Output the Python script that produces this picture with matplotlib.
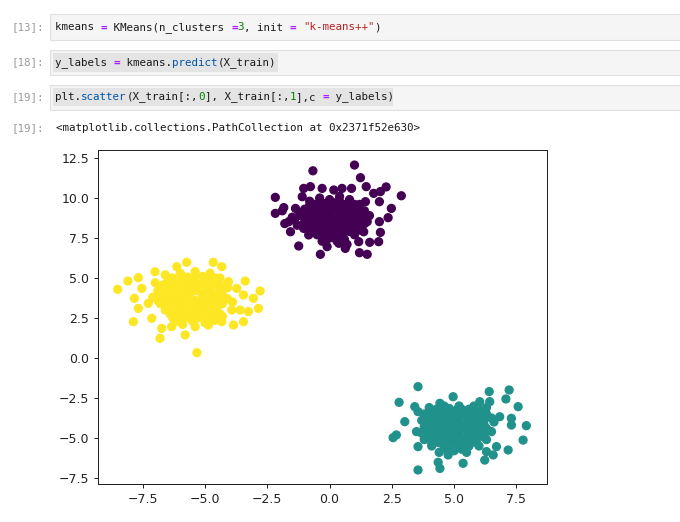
import matplotlib
matplotlib.use("Agg")
import matplotlib.pyplot as plt
from matplotlib.patches import Rectangle
import numpy as np

# ---- data ----
purple_x = [1.0, -0.67, 1.24, -2.18, 2.88, 2.27, 2.04, 1.77, 1.47, 2.48, 2.35, 2.0, 2.0, 2.04,
            1.97, 1.61, 1.17, 1.2, 1.51, 0.63, -0.37, -1.24, -1.57, -2.18, -1.84, -1.64, -1.37,
            -1.04, -0.77, -0.3, -1.1, 0.17, 0.5, 0.88, -0.03, 0.37, -0.1, -0.84, -1.04, 1.44,
            1.51, 1.37,
            -0.8, -0.4, 0.0, 0.4, 0.8, 1.2,
            -1.0, -0.6, -0.2, 0.2, 0.6, 1.0, 1.4,
            -1.2, -0.8, -0.4, 0.0, 0.4, 0.8, 1.2, 1.6,
            -1.0, -0.6, -0.2, 0.2, 0.6, 1.0, 1.4,
            -0.8, -0.4, 0.0, 0.4, 0.8, 1.2,
            -0.5, 0.0, 0.5, 1.0,
            -0.3, 0.3, 0.7,
            -1.9, -1.5, -1.3, -1.8]
purple_y = [12.06, 11.7, 11.27, 10.04, 10.14, 10.69, 10.4, 10.29, 10.71, 9.35, 8.77, 8.52, 9.77, 7.85,
            7.27, 7.23, 7.27, 6.58, 6.48, 6.85, 6.48, 7.0, 7.89, 9.04, 9.4, 8.52, 9.35,
            10.6, 10.71, 10.6, 10.08, 10.5, 10.6, 10.6, 7.48, 7.17, 6.96, 7.69, 8.1, 9.77,
            8.52, 7.89,
            9.8, 10.0, 9.9, 10.1, 9.9, 9.6,
            9.3, 9.4, 9.5, 9.5, 9.4, 9.3, 9.2,
            8.9, 8.9, 9.0, 9.0, 8.9, 8.9, 8.8, 8.9,
            8.5, 8.5, 8.6, 8.5, 8.5, 8.4, 8.4,
            8.1, 8.1, 8.1, 8.0, 8.1, 8.0,
            7.7, 7.7, 7.6, 7.7,
            7.3, 7.3, 7.1,
            9.2, 8.8, 8.3, 8.4]
purple_core_x = [-0.6, -0.2, 0.2, 0.6, 1.0,
                 -1.0, -0.6, -0.2, 0.2, 0.6, 1.0, 1.4,
                 -1.4, -1.0, -0.6, -0.2, 0.2, 0.6, 1.0, 1.4,
                 -0.8, -0.4, 0.0, 0.4, 0.8, 1.2,
                 -0.6, -0.2, 0.2, 0.6, 1.0,
                 -0.2, 0.2, 0.6,
                 -0.8, -0.4, 0.0, 0.4, 0.8,
                 -1.2, -0.8, -0.4, 0.0, 0.4, 0.8, 1.2,
                 -0.8, -0.4, 0.0, 0.4, 0.8, 1.2,
                 -0.6, -0.2, 0.2, 0.6, 1.0,
                 -0.4, 0.0, 0.4, 0.8]
purple_core_y = [9.6, 9.65, 9.7, 9.6, 9.6,
                 9.15, 9.15, 9.2, 9.25, 9.15, 9.1, 9.0,
                 8.7, 8.7, 8.75, 8.8, 8.7, 8.7, 8.65, 8.6,
                 8.3, 8.3, 8.35, 8.3, 8.25, 8.2,
                 7.9, 7.9, 7.85, 7.9, 7.85,
                 7.5, 7.5, 7.4,
                 9.55, 9.75, 9.7, 9.8, 9.7,
                 9.1, 9.2, 9.25, 9.3, 9.3, 9.2, 9.1,
                 8.6, 8.8, 8.8, 8.7, 8.6, 8.55,
                 8.2, 8.3, 8.2, 8.2, 8.2,
                 7.8, 7.85, 7.75, 7.9]

yellow_x = [-8.51, -8.1, -7.68, -7.84, -7.68, -7.88, -7.28, -7.01, -6.81, -5.8, -5.33, -5.74,
            -6.14, -4.67, -4.33, -4.06, -3.39, -3.73, -2.79, -3.46, -3.06, -2.86, -3.26, -3.46,
            -3.86, -3.59, -3.93, -4.33, -4.87, -5.4, -6.34, -6.74, -7.14, -7.54,
            -6.6, -6.0, -5.4, -4.8, -4.4,
            -7.0, -6.5, -6.0, -5.5, -5.0, -4.5, -4.1,
            -6.9, -6.4, -5.9, -5.4, -4.9, -4.4,
            -7.1, -6.6, -6.1, -5.6, -5.1, -4.6, -4.1,
            -6.8, -6.3, -5.8, -5.3, -4.8, -4.3,
            -6.6, -6.1, -5.6, -5.1, -4.6,
            -6.3, -5.8, -5.3, -4.8, -4.3,
            -5.9, -5.0]
yellow_y = [4.29, 4.81, 5.02, 3.73, 3.1, 2.27, 3.42, 5.39, 1.23, 1.44, 0.33, 5.98,
            5.71, 5.98, 5.71, 4.77, 4.81, 4.35, 4.19, 3.94, 3.73, 3.1, 2.9, 2.27,
            2.06, 3.0, 3.0, 2.27, 2.06, 1.96, 1.96, 1.85, 2.48, 4.35,
            5.2, 5.3, 5.4, 5.3, 5.0,
            4.7, 4.8, 4.8, 4.9, 4.8, 4.6, 4.4,
            4.2, 4.3, 4.3, 4.4, 4.3, 4.2,
            3.8, 3.8, 3.9, 3.9, 3.8, 3.8, 3.7,
            3.4, 3.4, 3.4, 3.3, 3.4, 3.4,
            3.0, 2.9, 2.9, 2.9, 2.9,
            2.5, 2.5, 2.5, 2.6, 2.6,
            2.1, 2.2]
yellow_core_x = [-6.3, -5.7, -5.1, -4.6,
                 -6.7, -6.2, -5.7, -5.2, -4.7, -4.3,
                 -6.6, -6.1, -5.6, -5.1, -4.6,
                 -6.9, -6.4, -5.9, -5.4, -4.9, -4.4, -3.9,
                 -6.5, -6.0, -5.5, -5.0, -4.5,
                 -6.4, -5.9, -5.4, -4.9, -4.4,
                 -6.1, -5.5, -4.6,
                 -6.4, -5.9, -5.4, -4.9,
                 -6.8, -6.3, -5.8, -5.3, -4.8, -4.4,
                 -6.8, -6.3, -5.8, -5.3, -4.8, -4.3,
                 -6.6, -6.1, -5.6, -5.1, -4.6,
                 -6.2, -5.7, -5.2, -4.7,
                 -6.1, -5.6, -5.1, -4.6]
yellow_core_y = [5.0, 5.05, 5.1, 5.0,
                 4.55, 4.55, 4.6, 4.6, 4.55, 4.5,
                 4.05, 4.05, 4.1, 4.05, 4.0,
                 3.6, 3.6, 3.65, 3.6, 3.6, 3.55, 3.5,
                 3.2, 3.15, 3.2, 3.15, 3.2,
                 2.75, 2.7, 2.75, 2.7, 2.75,
                 2.3, 2.3, 2.35,
                 4.9, 5.1, 5.15, 5.0,
                 4.45, 4.6, 4.6, 4.65, 4.5, 4.4,
                 4.0, 4.1, 4.15, 4.2, 4.1, 3.95,
                 3.6, 3.65, 3.7, 3.6, 3.6,
                 3.2, 3.15, 3.1, 3.15,
                 2.75, 2.7, 2.7, 2.7]

teal_x = [3.55, 2.79, 3.42, 3.02, 2.68, 2.55, 3.55, 4.43, 4.36, 4.76, 5.36, 6.23, 6.57, 7.17,
          7.77, 7.9, 7.57, 7.21, 7.08, 6.41, 7.3, 7.3, 6.83, 6.43, 6.03, 4.96, 4.43, 3.55,
          3.49, 3.55, 6.7, 6.3,
          4.0, 4.6, 5.2, 5.8, 6.3,
          3.8, 4.3, 4.8, 5.3, 5.8, 6.3,
          3.7, 4.2, 4.7, 5.2, 5.7, 6.2, 6.6,
          3.8, 4.3, 4.8, 5.3, 5.8, 6.3,
          3.7, 4.2, 4.7, 5.2, 5.7, 6.2,
          3.8, 4.3, 4.8, 5.3, 5.8, 6.3,
          4.1, 4.6, 5.1, 5.6, 6.0,
          4.4, 5.0, 5.5]
teal_y = [-1.79, -2.77, -3.04, -3.98, -4.81, -4.98, -7.0, -6.9, -6.52, -6.06, -6.58, -6.38, -6.06, -5.75,
          -5.13, -4.23, -3.04, -2.0, -2.56, -2.1, -3.77, -4.19, -3.67, -2.73, -2.73, -2.42, -2.83, -3.35,
          -4.6, -5.54, -5.54, -5.85,
          -3.1, -3.0, -3.0, -3.0, -3.1,
          -3.5, -3.5, -3.4, -3.5, -3.4, -3.5,
          -3.9, -3.9, -3.9, -3.9, -3.9, -3.9, -4.0,
          -4.3, -4.3, -4.3, -4.3, -4.3, -4.4,
          -4.7, -4.7, -4.7, -4.7, -4.7, -4.8,
          -5.1, -5.1, -5.1, -5.1, -5.1, -5.1,
          -5.5, -5.5, -5.5, -5.5, -5.5,
          -5.9, -5.8, -5.9]
teal_core_x = [4.1, 4.6, 5.1, 5.6, 6.1,
               4.0, 4.5, 5.0, 5.5, 6.0, 6.5,
               4.0, 4.5, 5.0, 5.5, 6.0,
               4.0, 4.5, 5.0, 5.5, 6.0, 6.5,
               4.0, 4.5, 5.0, 5.5, 6.0,
               4.1, 4.6, 5.1, 5.6,
               4.7, 5.3,
               4.3, 4.8, 5.3, 5.8,
               4.2, 4.7, 5.2, 5.7, 6.2,
               4.2, 4.7, 5.2, 5.7, 6.2,
               4.2, 4.7, 5.2, 5.7, 6.2,
               4.2, 4.7, 5.2, 5.7, 6.2,
               4.4, 4.9, 5.4, 5.9]
teal_core_y = [-3.25, -3.2, -3.25, -3.2, -3.25,
               -3.7, -3.7, -3.65, -3.7, -3.7, -3.75,
               -4.1, -4.1, -4.1, -4.15, -4.1,
               -4.5, -4.5, -4.5, -4.5, -4.55, -4.6,
               -4.9, -4.9, -4.9, -4.95, -4.9,
               -5.3, -5.3, -5.3, -5.35,
               -5.7, -5.7,
               -3.2, -3.15, -3.2, -3.25,
               -3.7, -3.6, -3.7, -3.65, -3.7,
               -4.1, -4.1, -4.1, -4.1, -4.15,
               -4.5, -4.5, -4.5, -4.5, -4.5,
               -4.9, -4.9, -4.9, -4.9, -4.95,
               -5.3, -5.3, -5.3, -5.3]

x_ticks = [-7.5, -5.0, -2.5, 0.0, 2.5, 5.0, 7.5]
y_ticks = [-7.5, -5.0, -2.5, 0.0, 2.5, 5.0, 7.5, 10.0, 12.5]

px_all = purple_x + purple_core_x
py_all = purple_y + purple_core_y
tx_all = teal_x + teal_core_x
ty_all = teal_y + teal_core_y
yx_all = yellow_x + yellow_core_x
yy_all = yellow_y + yellow_core_y

X = np.array(px_all + tx_all + yx_all)
Y = np.array(py_all + ty_all + yy_all)
labels = np.array([0] * len(px_all) + [1] * len(tx_all) + [2] * len(yx_all))

W, H = 680, 522
fig = plt.figure(figsize=(W / 100, H / 100), dpi=100)
fig.patch.set_facecolor("white")


def fx(px):
    return px / W


def fy(py):
    return 1 - py / H


def box(x0, y0, x1, y1, fc, ec=None, lw=0.0):
    r = Rectangle((fx(x0), fy(y1)), fx(x1) - fx(x0), fy(y0) - fy(y1),
                  transform=fig.transFigure, facecolor=fc,
                  edgecolor=ec if ec else fc, linewidth=lw, zorder=0)
    fig.add_artist(r)


MONO = "DejaVu Sans Mono"
FS = 7.8
CW = FS * 100 / 72 * 0.602  # char advance in px


def code_line(x0, yc, tokens):
    i = 0
    for txt, col, bold in tokens:
        fig.text(fx(x0 + i * CW), fy(yc), txt, family=MONO, fontsize=FS, color=col,
                 weight="bold" if bold else "normal", va="center", ha="left")
        i += len(txt)


K = "#1a1a1a"
OP = "#aa22ff"
NUM = "#008000"
STR = "#ba2121"
FN = "#0055aa"
PROMPT = "#9a9a9a"

# input cells
for (y0, y1) in [(14, 40), (50, 75), (85, 110)]:
    box(50, y0, 681, y1, "#f5f5f5", "#e0e0e0", 0.8)
# highlights
box(53, 53, 278, 72, "#e4e4e4")
box(53, 88, 393, 106, "#e4e4e4")

for yc, t in [(27.5, "[13]:"), (62.5, "[18]:"), (97, "[19]:"), (128, "[19]:")]:
    fig.text(fx(12), fy(yc), t, family=MONO, fontsize=FS, color=PROMPT, va="center", ha="left")

code_line(55, 27.5, [("kmeans ", K, False), ("=", OP, True), (" KMeans(n_clusters ", K, False),
                     ("=", OP, True), ("3", NUM, False), (", init ", K, False), ("=", OP, True),
                     (" ", K, False), ('"k-means++"', STR, False), (")", K, False)])
code_line(55, 62.5, [("y_labels ", K, False), ("=", OP, True), (" kmeans.", K, False),
                     ("predict", FN, False), ("(X_train)", K, False)])
code_line(55, 97, [("plt.", K, False), ("scatter", FN, False), ("(X_train[:,", K, False),
                   ("0", NUM, False), ("], X_train[:,", K, False), ("1", NUM, False),
                   ("],c ", K, False), ("=", OP, True), (" y_labels)", K, False)])
code_line(56, 128, [("<matplotlib.collections.PathCollection at 0x2371f52e630>", K, False)])

# plot axes
ax = fig.add_axes([fx(98), fy(484), fx(547) - fx(98), fy(150) - fy(484)])
ax.scatter(X, Y, c=labels, cmap="viridis", s=33, linewidths=0.9)
ax.set_xlim(-9.3, 8.73)
ax.set_ylim(-7.875, 13.0)
ax.set_xticks(x_ticks)
ax.set_yticks(y_ticks)
ax.set_xticklabels([f"{v:.1f}".replace("-", "\u2212") for v in x_ticks])
ax.set_yticklabels([f"{v:.1f}".replace("-", "\u2212") for v in y_ticks])
ax.tick_params(labelsize=9, length=3.2, width=0.72, pad=3.2, colors="#222222")
for s in ax.spines.values():
    s.set_linewidth(0.72)
    s.set_color("#222222")

fig.savefig("out.png", dpi=100)
